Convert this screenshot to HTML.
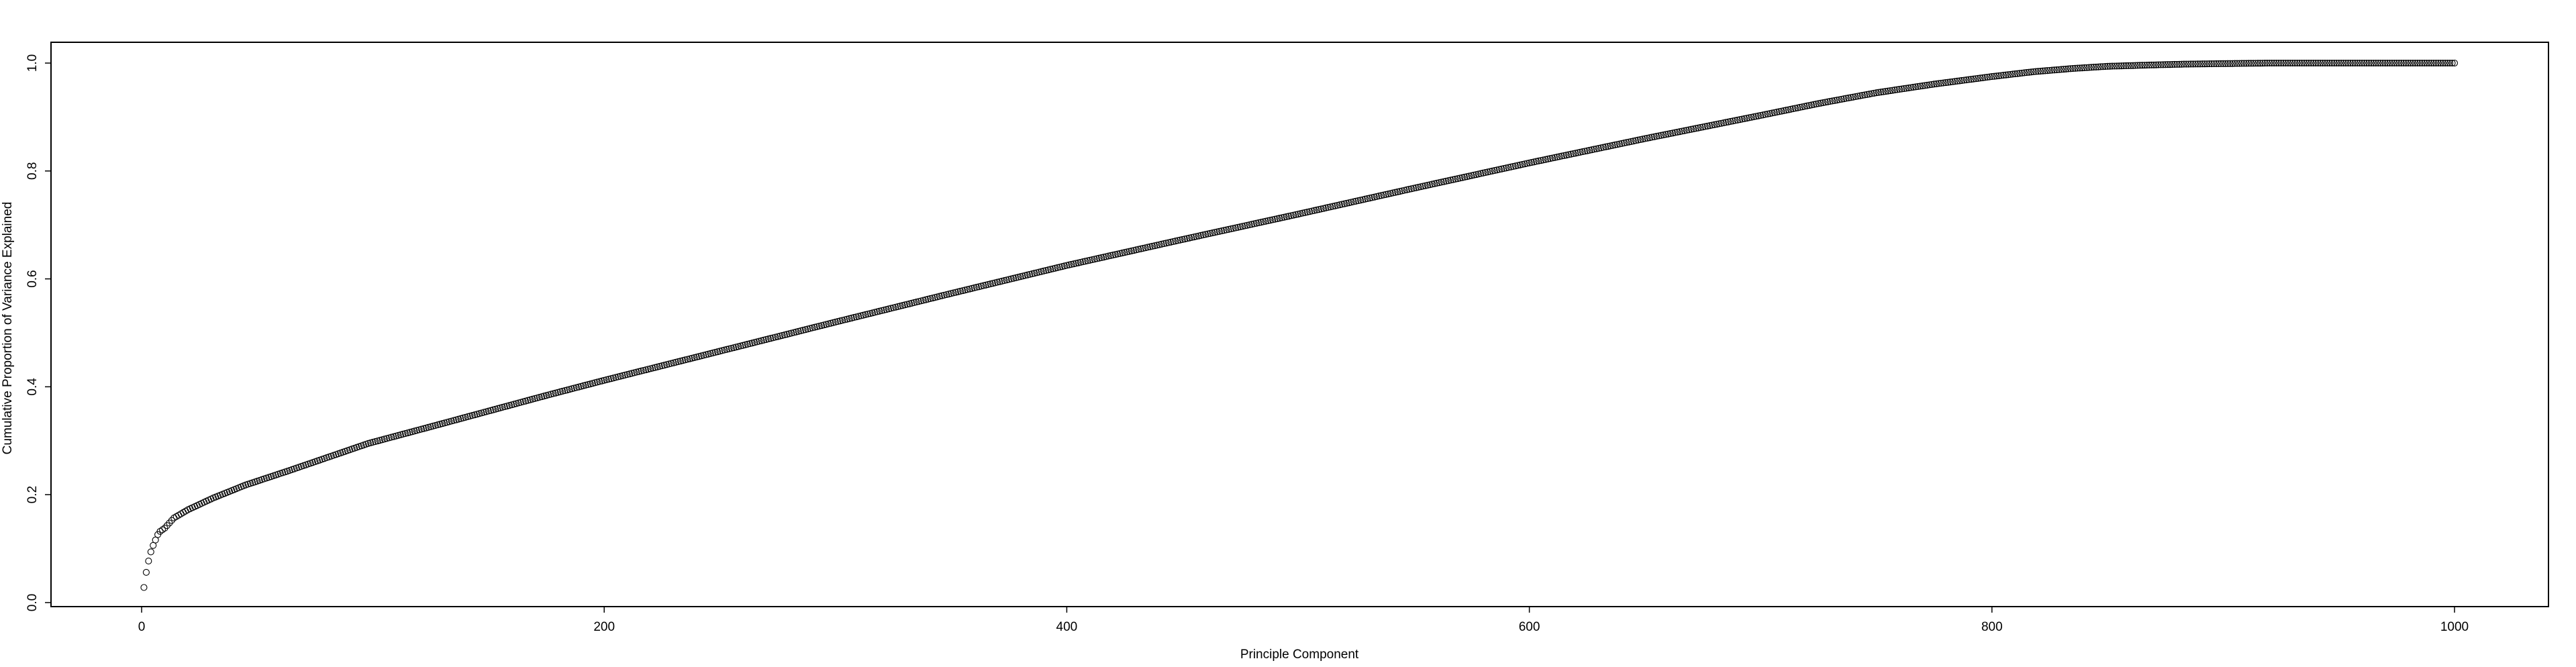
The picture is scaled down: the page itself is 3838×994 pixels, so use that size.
<!DOCTYPE html>
<html><head><meta charset="utf-8"><style>
html,body{margin:0;padding:0;background:#fff;}
svg{display:block;font-family:"Liberation Sans",Arial,sans-serif;}
</style></head><body>
<svg id="chart" width="3838" height="994" viewBox="0 0 3838 994" xmlns="http://www.w3.org/2000/svg">
<rect x="0" y="0" width="3838" height="994" fill="#fff"/>
<g id="axes"></g>
<g id="points"></g>
</svg>
<script>
const anchorComponents = [1,2,3,4,5,6,7,8,10,14,20,31,45,64,98,125,150,175,200,250,300,350,400,450,500,550,600,650,700,725,750,775,800,818,835,850,865,883,900,920,1000];
const anchorValues = [0.028,0.056,0.077,0.094,0.106,0.116,0.126,0.132,0.138,0.157,0.172,0.194,0.218,0.245,0.295,0.326,0.355,0.384,0.412,0.466,0.52,0.573,0.625,0.673,0.72,0.768,0.815,0.86,0.903,0.925,0.945,0.961,0.975,0.984,0.990,0.994,0.996,0.998,0.999,1.0,1.0];
const nComponents = 1000;
const xTicks = [0,200,400,600,800,1000];
const yTicks = [0.0,0.2,0.4,0.6,0.8,1.0];
const yTickLabels = ["0.0","0.2","0.4","0.6","0.8","1.0"];

const NS = "http://www.w3.org/2000/svg";
const box = {l:76, r:3797, t:63, b:904};
function xs(v){ return 211 + v * (3657 - 211) / 1000; }
function ys(v){ return 898 - v * (898 - 94); }
function mk(tag, attrs, parent){ const e=document.createElementNS(NS,tag); for(const k in attrs) e.setAttribute(k,attrs[k]); parent.appendChild(e); return e; }

const axes = document.getElementById('axes');
const frame = mk('rect',{x:box.l,y:box.t,width:box.r-box.l,height:box.b-box.t,fill:'none',stroke:'#000','stroke-width':2},axes);



xTicks.forEach(t=>{
  const x = xs(t);
  const ln = mk('line',{x1:x,x2:x,y1:box.b,y2:box.b+9,stroke:'#000','stroke-width':1.5},axes);
  
  
  const tx = mk('text',{x:x,y:940,'font-size':19,'text-anchor':'middle',fill:'#000'},axes);
  tx.textContent = String(t);
  
  
});
yTicks.forEach((t,i)=>{
  const y = ys(t);
  const ln = mk('line',{x1:box.l-9,x2:box.l,y1:y,y2:y,stroke:'#000','stroke-width':1.5},axes);
  
  
  const tx = mk('text',{x:0,y:0,'font-size':19,'text-anchor':'middle',fill:'#000',transform:'translate(54,'+y+') rotate(-90)'},axes);
  tx.textContent = yTickLabels[i];
  
  
});
const xt = mk('text',{x:1936,y:981,'font-size':19,'text-anchor':'middle',fill:'#000'},axes);
xt.textContent = 'Principle Component';


const yt = mk('text',{x:0,y:0,'font-size':19,'text-anchor':'middle',fill:'#000',transform:'translate(17,489) rotate(-90)'},axes);
yt.textContent = 'Cumulative Proportion of Variance Explained';



function valueAt(c){
  for(let i=0;i<anchorComponents.length-1;i++){
    const a=anchorComponents[i], b=anchorComponents[i+1];
    if(c>=a && c<=b){ const f=(c-a)/(b-a); return anchorValues[i]+f*(anchorValues[i+1]-anchorValues[i]); }
  }
  return anchorValues[anchorValues.length-1];
}
const pts = document.getElementById('points');
for(let c=1;c<=nComponents;c++){
  const p = mk('circle',{cx:xs(c),cy:ys(valueAt(c)),r:4.5,fill:'none',stroke:'#000','stroke-width':1.1},pts);
  
  
}
</script>
</body></html>
